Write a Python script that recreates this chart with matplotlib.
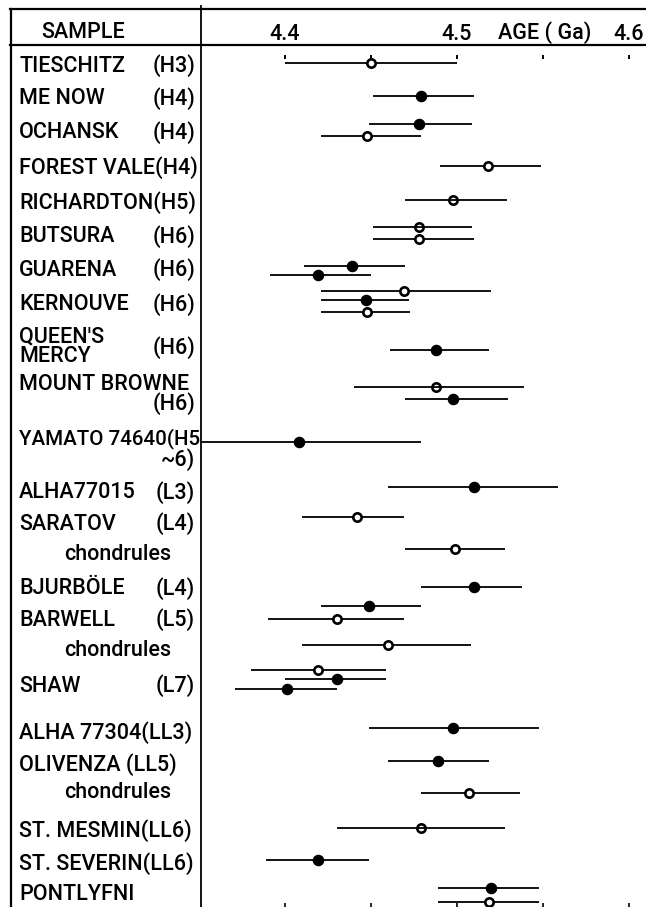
import numpy as np
import matplotlib
matplotlib.use("Agg")
import matplotlib.pyplot as plt

# ---- data (ages in Ga) ----
# vertical position of each measurement, in pixel rows from the top of the figure
meas_y = [63, 96, 124, 136, 166, 200, 227, 239, 266, 275, 291, 300, 312,
          350, 387, 399, 442, 487, 517, 549, 587, 606, 619, 645,
          670, 679, 689, 728, 761, 793, 828, 860, 888, 902]
age = [4.450, 4.479, 4.478, 4.448, 4.518, 4.498, 4.478, 4.478, 4.439, 4.419,
       4.469, 4.447, 4.448, 4.488, 4.488, 4.498, 4.408, 4.510, 4.442, 4.499,
       4.510, 4.449, 4.430, 4.460, 4.419, 4.430, 4.401, 4.498, 4.489, 4.507,
       4.479, 4.419, 4.520, 4.519]
age_lo = [4.400, 4.451, 4.449, 4.421, 4.490, 4.470, 4.451, 4.451, 4.411, 4.391,
          4.421, 4.421, 4.421, 4.461, 4.440, 4.470, 4.320, 4.460, 4.410, 4.470,
          4.479, 4.421, 4.390, 4.410, 4.380, 4.400, 4.371, 4.449, 4.460, 4.479,
          4.430, 4.389, 4.489, 4.489]
age_hi = [4.500, 4.510, 4.509, 4.479, 4.549, 4.529, 4.509, 4.510, 4.470, 4.450,
          4.520, 4.472, 4.473, 4.519, 4.539, 4.530, 4.479, 4.559, 4.469, 4.528,
          4.538, 4.479, 4.469, 4.508, 4.459, 4.459, 4.430, 4.548, 4.519, 4.537,
          4.528, 4.449, 4.548, 4.548]
# f = filled, o = open, h = open crossed by the line
symbol = ["o", "f", "f", "o", "o", "h", "h", "o", "f", "f", "o", "f", "o",
          "f", "h", "f", "f", "f", "o", "o", "f", "f", "o", "o",
          "o", "f", "f", "f", "f", "o", "h", "f", "f", "o"]

# sample labels
sample_name = ["TIESCHITZ", "ME NOW", "OCHANSK", "FOREST VALE(H4)", "RICHARDTON(H5)",
               "BUTSURA", "GUARENA", "KERNOUVE", "QUEEN'S\nMERCY", "MOUNT BROWNE",
               "YAMATO 74640(H5", "ALHA77015", "SARATOV", "chondrules", "BJURBÖLE",
               "BARWELL", "chondrules", "SHAW", "ALHA 77304(LL3)", "OLIVENZA (LL5)",
               "chondrules", "ST. MESMIN(LL6)", "ST. SEVERIN(LL6)", "PONTLYFNI"]
sample_class = ["(H3)", "(H4)", "(H4)", "", "", "(H6)", "(H6)", "(H6)", "(H6)", "(H6)",
                "~6)", "(L3)", "(L4)", "", "(L4)", "(L5)", "", "(L7)", "", "", "",
                "", "", ""]
name_y = [64, 97, 131, 166, 201, 235, 268, 303, 345, 382, 437, 491, 522, 553,
          587, 618, 648, 684, 731, 763, 791, 829, 862, 893]
class_y = [64, 97, 131, 166, 201, 235, 268, 303, 346, 402, 458, 491, 522, 553,
           587, 618, 648, 684, 731, 763, 791, 829, 862, 893]

tick_ages = [4.40, 4.45, 4.50, 4.55, 4.60]
label_ages = [4.4, 4.5, 4.6]

W, H = 646, 907
FONT = ["Roboto", "DejaVu Sans"]
FS = 15.5
FW = "medium"
DY = 2  # Roboto sits a little high with va="center"

fig = plt.figure(figsize=(W / 100, H / 100), dpi=100)

# table frame / labels in pixel coords
bg = fig.add_axes([0, 0, 1, 1])
bg.set_xlim(0, W)
bg.set_ylim(H, 0)
bg.axis("off")
bg.plot([10, W], [9, 9], color="black", lw=1.6)
bg.plot([10, W], [45, 45], color="black", lw=1.6)
bg.plot([11, 11], [9, H], color="black", lw=1.6)
bg.plot([201, 201], [6, H], color="black", lw=1.3)
bg.text(83, 30 + DY, "SAMPLE", fontsize=FS, family=FONT, weight=FW,
        ha="center", va="center")

for name, cls, ny, cy in zip(sample_name, sample_class, name_y, class_y):
    x0 = 64 if name == "chondrules" else 19
    ls = 0.9 if "\n" in name else 1.2
    fs = 14.8 if name.startswith("YAMATO") else FS
    bg.text(x0, ny + DY, name, fontsize=fs, family=FONT, weight=FW,
            ha="left", va="center", linespacing=ls)
    if cls:
        bg.text(195, cy + DY, cls, fontsize=FS, family=FONT, weight=FW,
                ha="right", va="center")

# data panel
ax = fig.add_axes([201 / W, 0, (W - 201) / W, (H - 45) / H])
ax.patch.set_visible(False)
ax.set_xlim(4.3511, 4.6101)
ax.set_ylim(H, 45)
for s in ax.spines.values():
    s.set_visible(False)
ax.set_yticks([])
ax.set_xticks(tick_ages)
ax.set_xticklabels([])
ax.tick_params(axis="x", direction="in", length=3, width=1.2)
ax.vlines(tick_ages, 55, 59, color="black", lw=1.4)

for lab in label_ages:
    ax.text(lab, 33 + DY, f"{lab:.1f}", fontsize=FS, family=FONT, weight=FW,
            ha="center", va="center", clip_on=False)
ax.text(4.551, 31 + DY, "AGE ( Ga)", fontsize=FS, family=FONT, weight=FW,
        ha="center", va="center", clip_on=False)

for y, a, lo, hi, sym in zip(meas_y, age, age_lo, age_hi, symbol):
    ax.hlines(y, lo, hi, color="black", lw=1.3, zorder=2 if sym != "h" else 4)
    if sym == "f":
        ax.plot(a, y, "o", ms=7.3, color="black", zorder=3)
    else:
        ax.plot(a, y, "o", ms=6, mfc="white", mec="black", mew=1.9, zorder=3)

fig.savefig("out.png", dpi=100)
